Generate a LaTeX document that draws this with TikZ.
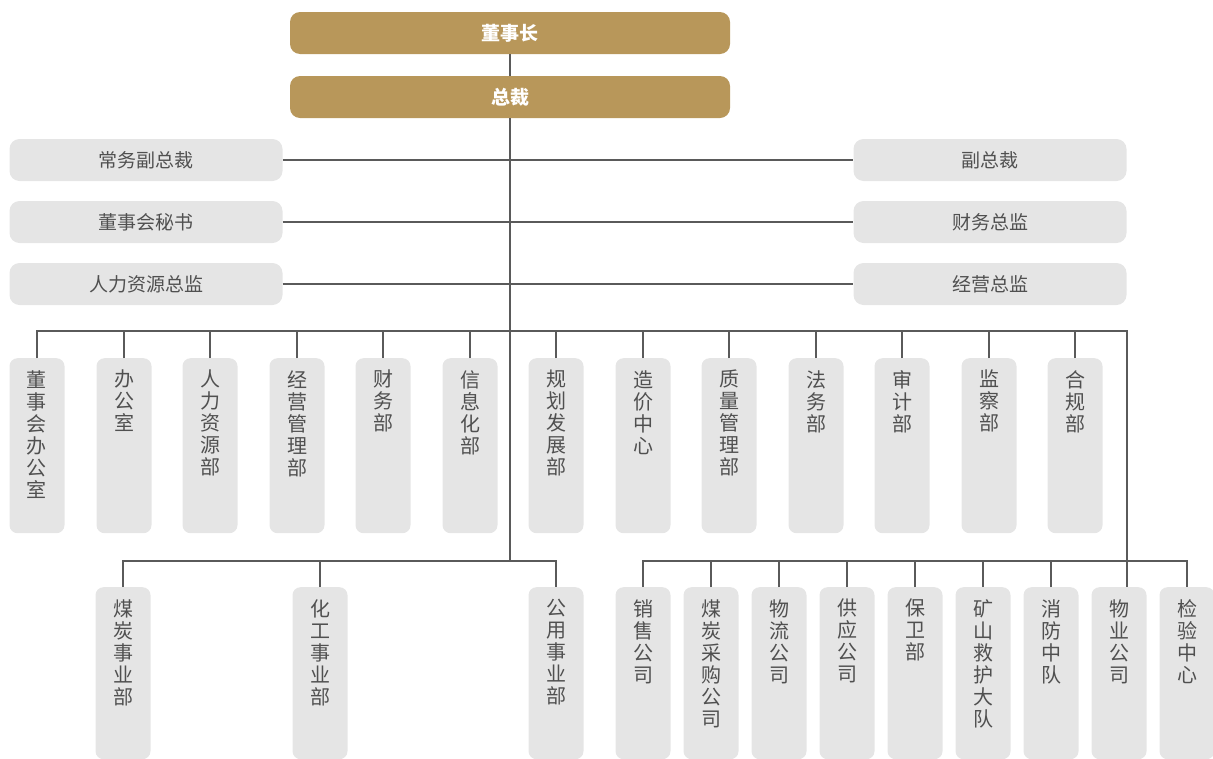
\documentclass[tikz,border=0pt]{standalone}
\usepackage{fontspec}
\setmainfont{Noto Sans CJK SC}
\usepackage{tikz}
\definecolor{gold}{HTML}{B8975A}
\definecolor{boxgray}{HTML}{E5E5E5}
\definecolor{linegray}{HTML}{5A5A5A}
\definecolor{txtgray}{HTML}{505050}

\begin{document}
\begin{tikzpicture}[x=1pt,y=-1pt]
\tikzstyle{head}=[fill=gold,rounded corners=10,minimum width=440,minimum height=42,text=white,font=\fontsize{19}{22}\selectfont\bfseries]
\tikzstyle{side}=[fill=boxgray,rounded corners=10,minimum width=273,minimum height=42,text=txtgray,font=\fontsize{19}{22}\selectfont]
\tikzstyle{dept}=[fill=boxgray,rounded corners=8,minimum width=55,minimum height=175,anchor=north,inner sep=0pt]
\tikzstyle{unit}=[dept,minimum height=172]
\tikzstyle{vlbl}=[anchor=north,yshift=-12,align=center,text=txtgray,font=\fontsize{20}{22}\selectfont,inner sep=0pt]
\tikzstyle{conn}=[draw=linegray,line width=1.4pt]

\useasboundingbox (0,0) rectangle (1213,758);

\node at (510,33) [head] (chair) {董事长};
\node at (510,97) [head] (pres) {总裁};

\node at (146,160) [side] (l1) {常务副总裁};
\node at (146,222) [side] (l2) {董事会秘书};
\node at (146,284) [side] (l3) {人力资源总监};

\node at (990,160) [side] (r1) {副总裁};
\node at (990,222) [side] (r2) {财务总监};
\node at (990,284) [side] (r3) {经营总监};

\coordinate (bus) at (1127,331);
\coordinate (low) at (510,561);

\node at (37,358) [dept,label={[vlbl]north:{董\\事\\会\\办\\公\\室}}] (d1) {};
\node at (124,358) [dept,label={[vlbl]north:{办\\公\\室}}] (d2) {};
\node at (210,358) [dept,label={[vlbl]north:{人\\力\\资\\源\\部}}] (d3) {};
\node at (297,358) [dept,label={[vlbl]north:{经\\营\\管\\理\\部}}] (d4) {};
\node at (383,358) [dept,label={[vlbl]north:{财\\务\\部}}] (d5) {};
\node at (470,358) [dept,label={[vlbl]north:{信\\息\\化\\部}}] (d6) {};
\node at (556,358) [dept,label={[vlbl]north:{规\\划\\发\\展\\部}}] (d7) {};
\node at (643,358) [dept,label={[vlbl]north:{造\\价\\中\\心}}] (d8) {};
\node at (729,358) [dept,label={[vlbl]north:{质\\量\\管\\理\\部}}] (d9) {};
\node at (816,358) [dept,label={[vlbl]north:{法\\务\\部}}] (d10) {};
\node at (902,358) [dept,label={[vlbl]north:{审\\计\\部}}] (d11) {};
\node at (989,358) [dept,label={[vlbl]north:{监\\察\\部}}] (d12) {};
\node at (1075,358) [dept,label={[vlbl]north:{合\\规\\部}}] (d13) {};

\node at (123,587) [unit,label={[vlbl]north:{煤\\炭\\事\\业\\部}}] (coal) {};
\node at (320,587) [unit,label={[vlbl]north:{化\\工\\事\\业\\部}}] (chem) {};
\node at (556,587) [unit,label={[vlbl]north:{公\\用\\事\\业\\部}}] (util) {};

\node at (643,587) [unit,label={[vlbl]north:{销\\售\\公\\司}}] (sales) {};
\node at (711,587) [unit,label={[vlbl]north:{煤\\炭\\采\\购\\公\\司}}] (buy) {};
\node at (779,587) [unit,label={[vlbl]north:{物\\流\\公\\司}}] (logi) {};
\node at (847,587) [unit,label={[vlbl]north:{供\\应\\公\\司}}] (supply) {};
\node at (915,587) [unit,label={[vlbl]north:{保\\卫\\部}}] (guard) {};
\node at (983,587) [unit,label={[vlbl]north:{矿\\山\\救\\护\\大\\队}}] (rescue) {};
\node at (1051,587) [unit,label={[vlbl]north:{消\\防\\中\\队}}] (fire) {};
\node at (1119,587) [unit,label={[vlbl]north:{物\\业\\公\\司}}] (prop) {};
\node at (1187,587) [unit,label={[vlbl]north:{检\\验\\中\\心}}] (test) {};



\draw[conn] (chair) -- (pres);
\draw[conn] (pres) -- (pres |- low);

\draw[conn] (l1) -- (r1);
\draw[conn] (l2) -- (r2);
\draw[conn] (l3) -- (r3);

\draw[conn] (d1.north) |- (bus) -- (bus |- prop.north);
\draw[conn] (d2.north) -- (d2.north |- bus);
\draw[conn] (d3.north) -- (d3.north |- bus);
\draw[conn] (d4.north) -- (d4.north |- bus);
\draw[conn] (d5.north) -- (d5.north |- bus);
\draw[conn] (d6.north) -- (d6.north |- bus);
\draw[conn] (d7.north) -- (d7.north |- bus);
\draw[conn] (d8.north) -- (d8.north |- bus);
\draw[conn] (d9.north) -- (d9.north |- bus);
\draw[conn] (d10.north) -- (d10.north |- bus);
\draw[conn] (d11.north) -- (d11.north |- bus);
\draw[conn] (d12.north) -- (d12.north |- bus);
\draw[conn] (d13.north) -- (d13.north |- bus);

\draw[conn] (coal.north) |- (util.north |- low) -- (util.north);
\draw[conn] (chem.north) -- (chem.north |- low);

\draw[conn] (sales.north) |- (test.north |- low) -- (test.north);
\draw[conn] (buy.north) -- (buy.north |- low);
\draw[conn] (logi.north) -- (logi.north |- low);
\draw[conn] (supply.north) -- (supply.north |- low);
\draw[conn] (guard.north) -- (guard.north |- low);
\draw[conn] (rescue.north) -- (rescue.north |- low);
\draw[conn] (fire.north) -- (fire.north |- low);

\end{tikzpicture}
\end{document}
